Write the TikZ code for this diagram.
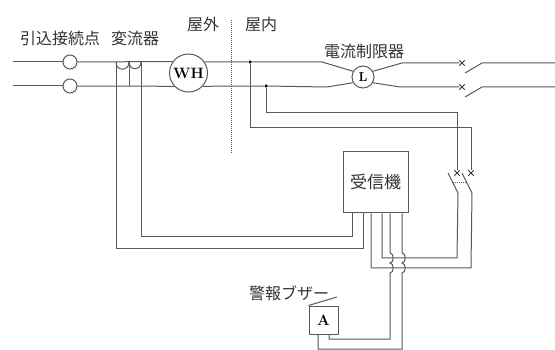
\documentclass[tikz,border=0pt]{standalone}
\usepackage{fontspec}
\newfontfamily\cjk{Noto Sans CJK JP}
\usetikzlibrary{shapes.misc}
\definecolor{wire}{gray}{0.35}
\tikzset{
  wireline/.style={draw=wire,line width=1pt},
  label/.style={text=black!80,font=\cjk\fontsize{16}{16}\selectfont,inner sep=0pt},
  dotmark/.style={shape=circle,fill=black,inner sep=0pt,minimum size=3.5pt},
  xmark/.style={shape=cross out,draw=black!80,line width=0.8pt,inner sep=0pt,minimum size=4.5pt},
  ring/.style={shape=circle,draw=wire,line width=1pt,inner sep=0pt,fill=white}
}
\begin{document}
\begin{tikzpicture}[x=1pt,y=-1pt]
            \useasboundingbox (0,0) rectangle (555,350);
            % labels
            \node[label](LblDrop)at(60, 38){引込接続点};
            \node[label](LblCT)at(135, 38){変流器};
            \node[label](LblOut)at(203, 24){屋外};
            \node[label](LblIn)at(261, 24){屋内};
            \node[label](LblLim)at(364, 51){電流制限器};
            \node[label](LblBuz)at(289, 293){警報ブザー};
            % main devices
            \node[ring,minimum size=14pt](P1)at(70, 62){};
            \node[ring,minimum size=14pt](P2)at(70, 86){};
            \node[ring,minimum size=38pt,font=\bfseries\fontsize{15}{15}\selectfont](WH)at(188.5, 73){WH};
            \node[ring,minimum size=22pt,font=\bfseries\fontsize{13}{13}\selectfont](L)at(363, 77){L};
            \node[draw=wire,line width=1pt,minimum width=65pt,minimum height=61pt,inner sep=0pt,
                  font=\cjk\fontsize{17}{17}\selectfont,text=black!80](RX)at(375.5, 182.5){受信機};
            \node[draw=wire,line width=1pt,minimum width=29pt,minimum height=28pt,inner sep=0pt,
                  font=\bfseries\fontsize{15}{15}\selectfont](BZ)at(323.5, 320){A};
            % junctions and breakers
            \node[dotmark](D1)at(250, 62){};
            \node[dotmark](D2)at(266, 86){};
            \node[xmark](X1)at(462, 63){};
            \node[xmark](X2)at(462, 87){};
            \node[xmark](X3)at(457, 173){};
            \node[xmark](X4)at(471, 173){};
            % free ends and corners
            \coordinate(T0)at(13, 62);
            \coordinate(B0)at(13, 86);
            \coordinate(C1)at(116, 62);
            \coordinate(C2)at(129, 62);
            \coordinate(C3)at(141, 62);
            \coordinate(C4)at(129, 86);
            \coordinate(LT)at(322, 62);
            \coordinate(LB)at(327, 87);
            \coordinate(RT)at(402, 63);
            \coordinate(RB)at(400, 87);
            \coordinate(S1a)at(465, 73);
            \coordinate(S1b)at(482, 63);
            \coordinate(S1c)at(555, 63);
            \coordinate(S2a)at(465, 97);
            \coordinate(S2b)at(482, 87);
            \coordinate(S2c)at(555, 87);
            \coordinate(S3a)at(448, 173);
            \coordinate(S3b)at(458, 193);
            \coordinate(S4a)at(462, 173);
            \coordinate(S4b)at(472, 193);
            \coordinate(Lk1)at(453, 182);
            \coordinate(Lk2)at(467, 182);
            \coordinate(Dv1)at(231, 20);
            \coordinate(Dv2)at(231, 153);
            \coordinate(J1a)at(390, 253);
            \coordinate(J1b)at(390, 263);
            \coordinate(J1c)at(390, 273);
            \coordinate(J2a)at(402, 253);
            \coordinate(J2b)at(402, 263);
            \coordinate(J2c)at(402, 273);
            % incoming lines
            \draw[wireline](T0) -- (P1);
            \draw[wireline](P1) -- (WH.144.6);
            \draw[wireline](B0) -- (P2);
            \draw[wireline](P2) -- (WH.-137);
            % current transformer
            \draw[wireline](C1) to[out=-90,in=-90,looseness=1.9] (C2);
            \draw[wireline](C2) to[out=-90,in=-90,looseness=1.9] (C3);
            \draw[wireline](C2) -- (C4);
            \draw[wireline](C1) -- (116, 249) -- (363, 249) -- (RX.south -| 363, 0);
            \draw[wireline](C3) -- (141, 237) -- (352, 237) -- (RX.south -| 352, 0);
            % meter to limiter
            \draw[wireline](WH.35.4) -- (D1) -- (LT) -- (L.150);
            \draw[wireline](WH.-43) -- (D2) -- (LB) -- (L.210);
            \draw[wireline](L.30) -- (RT) -- (X1);
            \draw[wireline](L.-30) -- (RB) -- (X2);
            \draw[wireline](S1a) -- (S1b) -- (S1c);
            \draw[wireline](S2a) -- (S2b) -- (S2c);
            \draw[wireline,densely dotted,line width=0.7pt](Dv1) -- (Dv2);
            % branch to breaker
            \draw[wireline](D1) -- (250, 128) -- (471, 128) -- (X4);
            \draw[wireline](D2) -- (266, 113) -- (457, 113) -- (X3);
            \draw[wireline](S3a) -- (S3b);
            \draw[wireline](S4a) -- (S4b);
            \draw[wireline,densely dotted,line width=0.6pt](Lk1) -- (Lk2);
            % breaker to receiver
            \draw[wireline](S3b) -- (457, 258) -- (382, 258) -- (RX.south -| 382, 0);
            \draw[wireline](S4b) -- (471, 268) -- (371, 268) -- (RX.south -| 371, 0);
            % receiver to buzzer
            \draw[wireline](RX.south -| 390, 0) -- (J1a) to[bend left=90,looseness=1.1] (J1b) to[bend left=90,looseness=1.1] (J1c)
              -- (390, 339) -- (329, 339) -- (BZ.south -| 329, 0);
            \draw[wireline](RX.south -| 402, 0) -- (J2a) to[bend left=90,looseness=1.1] (J2b) to[bend left=90,looseness=1.1] (J2c)
              -- (402, 349) -- (318, 349) -- (BZ.south -| 318, 0);
            \draw[wireline](BZ.north west) -- (337, 297);
        \end{tikzpicture}
\end{document}
